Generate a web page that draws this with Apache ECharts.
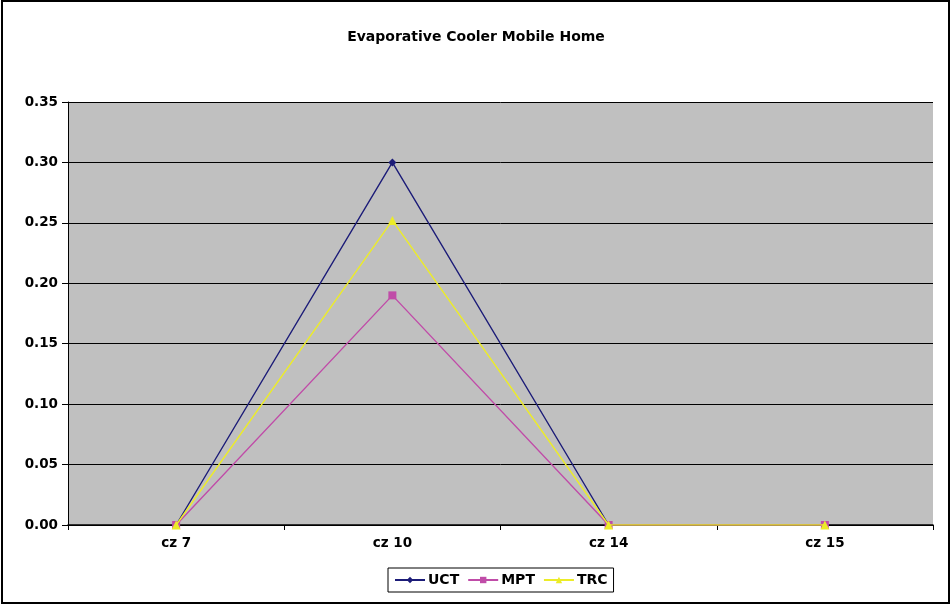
<!DOCTYPE html>
<html>
<head>
<meta charset="utf-8">
<script src="https://cdn.jsdelivr.net/npm/echarts@6/dist/echarts.min.js"></script>
<style>
  html, body { margin: 0; padding: 0; background: #fff; }
  #chart { width: 952px; height: 605px; }
</style>
</head>
<body>
<div id="chart"></div>
<script>
// Climate zones along the x axis
const categories = ['cz 7', 'cz 10', 'cz 14', 'cz 15'];
// Series values per climate zone
const uct = [0.00, 0.30, 0.00, 0.00];
const mpt = [0.00, 0.19, 0.00, 0.00];
const trc = [0.00, 0.252, 0.00, 0.00];

const chart = echarts.init(document.getElementById('chart'));
const font = '"DejaVu Sans", sans-serif';

chart.setOption({
  backgroundColor: '#ffffff',
  animation: false,
  title: {
    text: 'Evaporative Cooler Mobile Home',
    left: 'center',
    top: 25,
    textStyle: { fontFamily: font, fontSize: 14, fontWeight: 'bold', color: '#000' }
  },
  graphic: [{
    type: 'rect',
    shape: { x: 2, y: 1, width: 947, height: 602 },
    style: { fill: 'none', stroke: '#000', lineWidth: 2 },
    silent: true,
    z: 100
  }],
  legend: {
    top: 568,
    left: 388,
    itemWidth: 30,
    itemHeight: 8,
    itemGap: 8,
    borderColor: '#000',
    borderWidth: 1,
    padding: [5, 6, 5, 6],
    textStyle: { fontFamily: font, fontSize: 14, fontWeight: 'bold', color: '#000', padding: [0, 0, 0, -2] },
    data: ['UCT', 'MPT', 'TRC']
  },
  grid: {
    left: 68, top: 102, width: 865, height: 423,
    show: true, backgroundColor: '#c0c0c0', borderWidth: 0
  },
  xAxis: {
    type: 'category',
    data: categories,
    boundaryGap: true,
    axisLine: { lineStyle: { color: '#000', width: 1.5 } },
    axisTick: { show: true, alignWithLabel: false, length: 5, lineStyle: { color: '#000' } },
    axisLabel: { fontFamily: font, fontSize: 13.5, fontWeight: 'bold', color: '#000', margin: 11 }
  },
  yAxis: {
    type: 'value',
    min: 0, max: 0.35, interval: 0.05,
    axisLine: { show: true, lineStyle: { color: '#000', width: 1 } },
    axisTick: { show: true, length: 6, lineStyle: { color: '#000' } },
    splitLine: { show: true, lineStyle: { color: '#000', width: 1 } },
    axisLabel: {
      fontFamily: font, fontSize: 13.5, fontWeight: 'bold', color: '#000', margin: 10,
      formatter: v => v.toFixed(2)
    }
  },
  series: [
    {
      name: 'UCT', type: 'line', data: uct,
      symbol: 'diamond', symbolSize: 8,
      lineStyle: { color: '#1c1c78', width: 1.4 },
      itemStyle: { color: '#1c1c78' }, z: 3
    },
    {
      name: 'MPT', type: 'line', data: mpt,
      symbol: 'rect', symbolSize: 8,
      lineStyle: { color: '#c04ca8', width: 1.4 },
      itemStyle: { color: '#c04ca8' }, z: 4
    },
    {
      name: 'TRC', type: 'line', data: trc,
      symbol: 'triangle', symbolSize: 9,
      lineStyle: { color: '#ecec28', width: 1.4 },
      itemStyle: { color: '#ecec28' }, z: 5
    }
  ]
});
</script>
</body>
</html>
